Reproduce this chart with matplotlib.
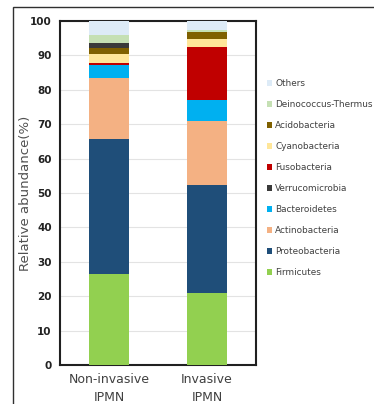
import matplotlib
matplotlib.use("Agg")
import matplotlib.pyplot as plt
from matplotlib.patches import Rectangle, Patch

groups = ["Non-invasive\nIPMN", "Invasive\nIPMN"]
phyla = ["Firmicutes", "Proteobacteria", "Actinobacteria", "Bacteroidetes",
         "Verrucomicrobia", "Fusobacteria", "Cyanobacteria", "Acidobacteria",
         "Deinococcus-Thermus", "Others"]
firmicutes = [26.4, 20.8]
proteobacteria = [39.2, 31.4]
actinobacteria = [17.9, 18.7]
bacteroidetes = [3.7, 6.1]
verrucomicrobia = [1.4, 0.1]
fusobacteria = [0.5, 15.3]
cyanobacteria = [2.6, 2.6]
acidobacteria = [1.8, 1.9]
deinococcus = [2.4, 0.5]
others = [4.1, 2.6]
colors = {"Firmicutes": "#92D050", "Proteobacteria": "#1F4E79",
          "Actinobacteria": "#F4B183", "Bacteroidetes": "#00B0F0",
          "Verrucomicrobia": "#3A3A3A", "Fusobacteria": "#C00000",
          "Cyanobacteria": "#FFE699", "Acidobacteria": "#7F6000",
          "Deinococcus-Thermus": "#C5E0B4", "Others": "#DDEBF7"}
values = {"Firmicutes": firmicutes, "Proteobacteria": proteobacteria,
          "Actinobacteria": actinobacteria, "Bacteroidetes": bacteroidetes,
          "Verrucomicrobia": verrucomicrobia, "Fusobacteria": fusobacteria,
          "Cyanobacteria": cyanobacteria, "Acidobacteria": acidobacteria,
          "Deinococcus-Thermus": deinococcus, "Others": others}
stack_order = ["Firmicutes", "Proteobacteria", "Actinobacteria", "Bacteroidetes",
               "Fusobacteria", "Cyanobacteria", "Acidobacteria", "Verrucomicrobia",
               "Deinococcus-Thermus", "Others"]

W, H = 374, 404
fig = plt.figure(figsize=(W / 100, H / 100), dpi=100)
ax = fig.add_axes([60 / W, 1 - 365 / H, 196 / W, 344 / H])

x = [0, 1]
bottom = [0.0, 0.0]
for p in stack_order:
    v = values[p]
    ax.bar(x, v, width=0.4, bottom=bottom, color=colors[p], linewidth=0, zorder=3)
    bottom = [b + vv for b, vv in zip(bottom, v)]

ax.set_xlim(-0.5, 1.5)
ax.set_ylim(0, 100)
ax.set_yticks(range(0, 101, 10))
ax.yaxis.grid(True, color="#e3e3e3", linewidth=0.8, zorder=0)
ax.set_axisbelow(True)
ax.tick_params(axis="both", length=0)
ax.tick_params(axis="y", pad=6, labelsize=7.5, labelcolor="#222222")
for lab in ax.get_yticklabels():
    lab.set_fontweight("bold")
ax.set_xticks(x)
ax.set_xticklabels(groups, fontsize=9, color="#404040", linespacing=1.45)
ax.tick_params(axis="x", pad=6)
for s in ax.spines.values():
    s.set_color("#202020")
    s.set_linewidth(1.5)
ax.set_ylabel("Relative abundance(%)", fontsize=9.5, color="#505050")
ax.yaxis.set_label_coords(-(60 - 25) / 196, 0.5)
ax.yaxis.label.set_va("center")

handles = [Patch(facecolor=colors[p], edgecolor="none") for p in reversed(phyla)]
fig.legend(handles, list(reversed(phyla)), loc="upper left",
           bbox_to_anchor=(267 / W, 1 - 79 / H), frameon=False, fontsize=6.4,
           handlelength=0.55, handleheight=0.55, handletextpad=0.35,
           labelspacing=1.35, borderpad=0, borderaxespad=0,
           labelcolor="#404040")

fig.patches.append(Rectangle((13 / W, -0.1), 1.2, 1 - 7 / H + 0.1,
                             transform=fig.transFigure, fill=False,
                             edgecolor="#303030", linewidth=1.0))
fig.savefig("out.png", dpi=100)
